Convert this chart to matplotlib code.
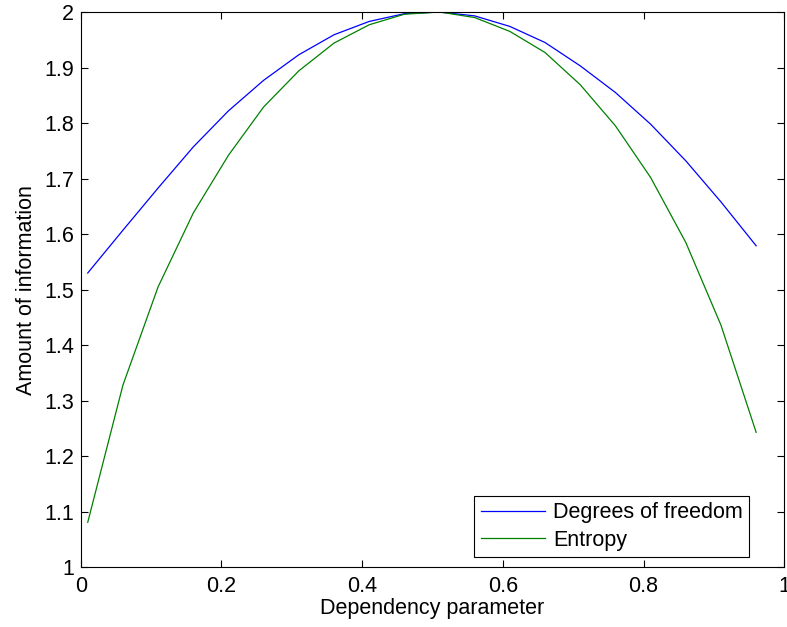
import matplotlib
matplotlib.use('Agg')
from matplotlib import pyplot as plt
import numpy

plt.rcParams['font.family'] = ['Liberation Sans', 'DejaVu Sans']

# dependency parameter values (x axis)
dependency = [0.01, 0.06, 0.11, 0.16, 0.21, 0.26, 0.31, 0.36, 0.41, 0.46,
              0.51, 0.56, 0.61, 0.66, 0.71, 0.76, 0.81, 0.86, 0.91, 0.96]

degrees_of_freedom = [1.530, 1.607, 1.683, 1.757, 1.822, 1.877, 1.923, 1.959, 1.983, 1.997,
                      2.000, 1.993, 1.974, 1.945, 1.903, 1.855, 1.798, 1.732, 1.658, 1.579]

entropy = [1.081, 1.328, 1.505, 1.638, 1.742, 1.829, 1.894, 1.944, 1.977, 1.996,
           2.000, 1.990, 1.965, 1.927, 1.869, 1.795, 1.702, 1.585, 1.436, 1.243]

series_labels = ['Degrees of freedom', 'Entropy']
x_tick_labels = ['0', '0.2', '0.4', '0.6', '0.8', '1']
y_tick_labels = ['1', '1.1', '1.2', '1.3', '1.4', '1.5', '1.6', '1.7', '1.8', '1.9', '2']

fs = 15.5

fig = plt.figure(figsize=(7.87, 6.27), dpi=100)
ax = fig.add_axes([80.7 / 787, 1 - 567.3 / 627, 703.6 / 787, 555.3 / 627])

ax.plot(dependency, degrees_of_freedom, color=(0, 0, 1), linewidth=0.9, label=series_labels[0])
ax.plot(dependency, entropy, color=(0, 0.5, 0), linewidth=0.9, label=series_labels[1])

ax.set_xlim(0, 1)
ax.set_ylim(1, 2)
ax.set_xticks(numpy.linspace(0, 1, len(x_tick_labels)))
ax.set_xticklabels(x_tick_labels)
ax.set_yticks(numpy.linspace(1, 2, len(y_tick_labels)))
ax.set_yticklabels(y_tick_labels)
ax.tick_params(direction='in', top=True, right=True, length=5, width=0.8, labelsize=fs)
ax.tick_params(axis='x', pad=6)
ax.tick_params(axis='y', pad=5)
for spine in ax.spines.values():
    spine.set_linewidth(0.8)

ax.set_xlabel('Dependency parameter', fontsize=fs, labelpad=1)
ax.set_ylabel('Amount of information', fontsize=fs, labelpad=5)

leg = ax.legend(loc='lower right', bbox_to_anchor=(0.9498, 0.018), fontsize=fs,
                fancybox=False, framealpha=1, edgecolor='black', borderaxespad=0,
                handlelength=3.0, borderpad=0.3, labelspacing=0.3, handletextpad=0.35)
leg.get_frame().set_linewidth(0.8)

plt.savefig('out.png', dpi=100)
